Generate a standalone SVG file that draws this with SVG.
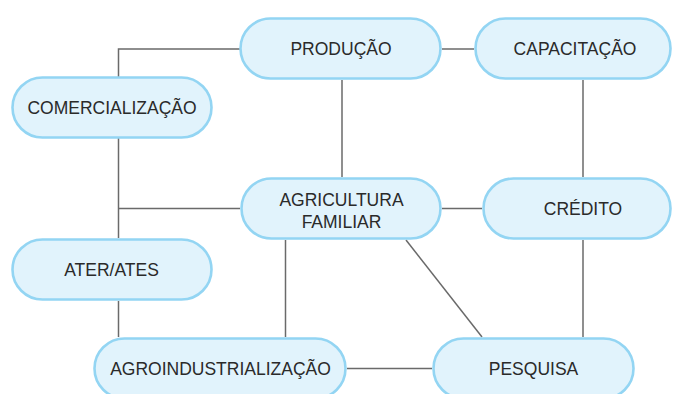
<svg xmlns="http://www.w3.org/2000/svg" width="673" height="394" viewBox="0 0 673 394">
<style>
.node rect{fill:#e1f3fc;stroke:#93d5f3;stroke-width:2.6}
.node text{font-family:"Liberation Sans",Arial,sans-serif;font-size:17.5px;fill:#2a2a2a;text-anchor:middle}
.conn line,.conn polyline{stroke:#6a6a6a;stroke-width:1.5;fill:none}
</style>
<rect width="673" height="394" fill="#ffffff"/>
<g id="connectors" class="conn">
<polyline points="240,49 118.5,49 118.5,77"/>
<line x1="442" y1="49" x2="474" y2="49"/>
<line x1="342" y1="80" x2="342" y2="177"/>
<line x1="583" y1="80" x2="583" y2="177"/>
<line x1="118.5" y1="138" x2="118.5" y2="238"/>
<line x1="118.5" y1="208.5" x2="240" y2="208.5"/>
<line x1="442" y1="208.5" x2="482" y2="208.5"/>
<line x1="118.5" y1="301" x2="118.5" y2="337"/>
<line x1="285.5" y1="240" x2="285.5" y2="337"/>
<line x1="406" y1="240" x2="482" y2="337"/>
<line x1="583" y1="240" x2="583" y2="337"/>
<line x1="347" y1="368.5" x2="432" y2="368.5"/>
</g>
<g id="producao" class="node"><rect x="240.5" y="18.5" width="200" height="60" rx="30"/><text x="341" y="54.5">PRODUÇÃO</text></g>
<g id="capacitacao" class="node"><rect x="475.5" y="18.5" width="195" height="60" rx="30"/><text x="575" y="54.5">CAPACITAÇÃO</text></g>
<g id="comercializacao" class="node"><rect x="12.5" y="77.5" width="199" height="60" rx="30"/><text x="112" y="113.5">COMERCIALIZAÇÃO</text></g>
<g id="agricultura" class="node"><rect x="241.5" y="178.5" width="199" height="60" rx="30"/><text x="341.5" y="206">AGRICULTURA</text><text x="341.5" y="228">FAMILIAR</text></g>
<g id="credito" class="node"><rect x="483.5" y="178.5" width="187" height="60" rx="30"/><text x="583" y="215">CRÉDITO</text></g>
<g id="ater" class="node"><rect x="12.5" y="239.5" width="199" height="60" rx="30"/><text x="111.5" y="276">ATER/ATES</text></g>
<g id="agroindustrializacao" class="node"><rect x="94.5" y="338.5" width="251" height="60" rx="30"/><text x="220.5" y="375">AGROINDUSTRIALIZAÇÃO</text></g>
<g id="pesquisa" class="node"><rect x="433.5" y="338.5" width="200" height="60" rx="30"/><text x="533.5" y="375">PESQUISA</text></g>
</svg>
